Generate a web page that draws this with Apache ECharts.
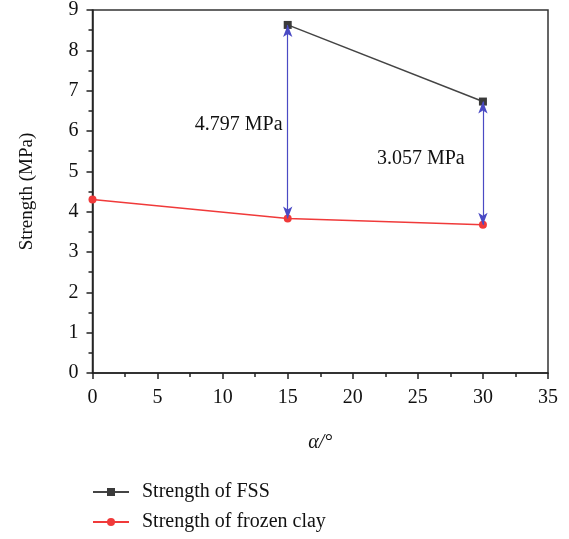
<!DOCTYPE html>
<html><head><meta charset="utf-8">
<script src="https://cdn.jsdelivr.net/npm/echarts@6/dist/echarts.min.js"></script>
<style>html,body{margin:0;padding:0;background:#fff}#c{width:569px;height:539px}</style>
</head><body><div id="c"></div>
<script>
const angles = [0, 15, 30];
const fssAngles = [15, 30];
const fssStrength = [8.63, 6.73];
const clayStrength = [4.30, 3.833, 3.673];
const diffLabels = ['4.797 MPa', '3.057 MPa'];
const diffLabelPos = [[14.6, 6.16], [28.6, 5.30]];
const xTicks = [0, 5, 10, 15, 20, 25, 30, 35];
const yTicks = [0, 1, 2, 3, 4, 5, 6, 7, 8, 9];

const font = 'Liberation Serif';
const chart = echarts.init(document.getElementById('c'));
chart.setOption({
  animation: false,
  backgroundColor: '#fff',
  grid: { left: 92.5, right: 21, top: 6, bottom: 166, show: true, borderColor: '#333', borderWidth: 1.5, backgroundColor: 'transparent' },
  legend: {
    orient: 'vertical', left: 87, top: 477, itemWidth: 36, itemHeight: 10, itemGap: 10,
    textStyle: { fontFamily: font, fontSize: 20, color: '#111', padding: [0, 0, 0, 8] },
    data: ['Strength of FSS', 'Strength of frozen clay']
  },
  xAxis: {
    type: 'value', min: xTicks[0], max: xTicks[xTicks.length - 1], interval: 5,
    name: 'α/°', nameLocation: 'middle', nameGap: 60,
    nameTextStyle: { fontFamily: font, fontSize: 20, fontStyle: 'italic', color: '#111' },
    axisLine: { lineStyle: { color: '#222', width: 1.5 } },
    axisTick: { length: 6, lineStyle: { color: '#222', width: 1.5 } },
    minorTick: { show: true, splitNumber: 2, length: 4, lineStyle: { color: '#222', width: 1.5 } },
    axisLabel: { fontFamily: font, fontSize: 20, color: '#111', margin: 15 },
    splitLine: { show: false }
  },
  yAxis: {
    type: 'value', min: yTicks[0], max: yTicks[yTicks.length - 1], interval: 1,
    name: 'Strength (MPa)', nameLocation: 'middle', nameGap: 56,
    nameTextStyle: { fontFamily: font, fontSize: 19, color: '#111' },
    axisLine: { lineStyle: { color: '#222', width: 1.5 } },
    axisTick: { length: 6, lineStyle: { color: '#222', width: 1.5 } },
    minorTick: { show: true, splitNumber: 2, length: 4, lineStyle: { color: '#222', width: 1.5 } },
    axisLabel: { fontFamily: font, fontSize: 20, color: '#111', margin: 14 },
    splitLine: { show: false }
  },
  series: [
    {
      name: 'Strength of FSS', type: 'line',
      data: fssAngles.map((a, i) => [a, fssStrength[i]]),
      symbol: 'rect', symbolSize: 8,
      itemStyle: { color: '#3a3a3a' },
      lineStyle: { color: '#444', width: 1.5 },
      z: 3
    },
    {
      name: 'Strength of frozen clay', type: 'line',
      data: angles.map((a, i) => [a, clayStrength[i]]),
      symbol: 'circle', symbolSize: 8,
      itemStyle: { color: '#f03a3a' },
      lineStyle: { color: '#f03a3a', width: 1.5 },
      z: 3,
      markLine: {
        silent: true, symbol: ['arrow', 'arrow'], symbolSize: [7, 12],
        label: { show: false },
        lineStyle: { color: '#4a4ac4', width: 1.2, type: 'solid' },
        data: fssAngles.map((a, i) => [
          { coord: [a, fssStrength[i]] },
          { coord: [a, clayStrength[angles.indexOf(a)]] }
        ])
      }
    },
    {
      name: 'diff', type: 'scatter', symbolSize: 0, silent: true,
      itemStyle: { opacity: 1, color: '#111' },
      data: diffLabelPos.map((p, i) => ({ value: p, label: { formatter: diffLabels[i] } })),
      label: { show: true, position: 'left', distance: 0, fontFamily: font, fontSize: 20, color: '#111', opacity: 1 }
    }
  ]
});
</script></body></html>
